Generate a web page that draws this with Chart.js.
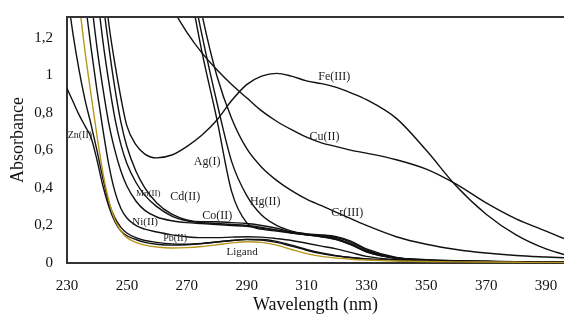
<!DOCTYPE html>
<html>
<head>
<meta charset="utf-8">
<script src="https://cdn.jsdelivr.net/npm/chart.js"></script>
<style>
  body { margin: 0; background: #fff; }
  canvas { display: block; }
</style>
</head>
<body>
<canvas id="spectra" width="564" height="316"></canvas>
<script>
// wavelengths (nm) shared by every spectrum
const wavelengths = [230, 232, 234, 236, 238, 240, 242, 244, 246, 248, 250, 253, 256, 260, 265, 270, 275, 280, 285, 290, 295, 300, 305, 310, 315, 320, 325, 330, 340, 350, 360, 370, 380, 390, 396];

// absorbance (null = off the top of the plot)
const ligand = [2.2, 1.75, 1.4, 1.13, 0.9, 0.68, 0.48, 0.33, 0.23, 0.17, 0.135, 0.11, 0.095, 0.085, 0.08, 0.082, 0.088, 0.097, 0.107, 0.113, 0.11, 0.095, 0.072, 0.05, 0.035, 0.026, 0.02, 0.016, 0.011, 0.008, 0.006, 0.005, 0.004, 0.003, 0.003];
const niII = [1.45, 1.22, 1.03, 0.87, 0.74, 0.6, 0.45, 0.32, 0.24, 0.19, 0.16, 0.135, 0.12, 0.11, 0.102, 0.1, 0.104, 0.112, 0.12, 0.126, 0.125, 0.115, 0.095, 0.072, 0.053, 0.039, 0.029, 0.022, 0.014, 0.01, 0.008, 0.006, 0.005, 0.004, 0.004];
const znII = [0.93, 0.86, 0.79, 0.73, 0.67, 0.55, 0.41, 0.3, 0.22, 0.17, 0.145, 0.125, 0.11, 0.1, 0.095, 0.097, 0.103, 0.112, 0.12, 0.125, 0.122, 0.11, 0.09, 0.068, 0.05, 0.037, 0.028, 0.021, 0.013, 0.01, 0.008, 0.006, 0.005, 0.004, 0.004];
const pbII = [null, null, 1.65, 1.4, 1.15, 0.92, 0.71, 0.52, 0.38, 0.29, 0.24, 0.2, 0.18, 0.165, 0.15, 0.14, 0.135, 0.135, 0.138, 0.14, 0.138, 0.13, 0.12, 0.105, 0.09, 0.075, 0.055, 0.035, 0.018, 0.012, 0.009, 0.007, 0.006, 0.005, 0.005];
const mnII = [null, null, null, 1.75, 1.42, 1.15, 0.93, 0.74, 0.6, 0.49, 0.41, 0.33, 0.28, 0.245, 0.225, 0.215, 0.21, 0.205, 0.2, 0.195, 0.185, 0.175, 0.165, 0.155, 0.15, 0.14, 0.115, 0.075, 0.03, 0.018, 0.012, 0.009, 0.007, 0.006, 0.005];
const cdII = [null, null, null, null, 1.75, 1.45, 1.18, 0.96, 0.77, 0.63, 0.53, 0.43, 0.36, 0.3, 0.25, 0.225, 0.215, 0.21, 0.205, 0.2, 0.19, 0.175, 0.16, 0.15, 0.145, 0.135, 0.11, 0.07, 0.028, 0.016, 0.011, 0.008, 0.007, 0.006, 0.005];
const coII = [null, null, null, null, null, 1.75, 1.4, 1.15, 0.93, 0.75, 0.62, 0.49, 0.4, 0.32, 0.26, 0.23, 0.22, 0.22, 0.215, 0.21, 0.2, 0.185, 0.165, 0.15, 0.14, 0.125, 0.095, 0.06, 0.025, 0.015, 0.01, 0.008, 0.006, 0.005, 0.005];
const feIII = [null, null, null, null, null, null, 1.55, 1.27, 1.06, 0.88, 0.73, 0.63, 0.58, 0.56, 0.575, 0.62, 0.68, 0.76, 0.865, 0.95, 0.995, 1.01, 0.995, 0.97, 0.955, 0.935, 0.905, 0.87, 0.77, 0.6, 0.41, 0.26, 0.15, 0.075, 0.045];
const agI = [null, null, null, null, null, null, null, null, null, null, null, null, null, null, null, 1.55, 1.13, 0.77, 0.38, 0.215, 0.18, 0.17, 0.16, 0.15, 0.14, 0.125, 0.1, 0.065, 0.025, 0.014, 0.01, 0.008, 0.006, 0.005, 0.005];
const hgII = [null, null, null, null, null, null, null, null, null, null, null, null, null, null, null, 1.62, 1.22, 0.86, 0.54, 0.36, 0.255, 0.2, 0.17, 0.155, 0.145, 0.13, 0.1, 0.06, 0.025, 0.013, 0.009, 0.007, 0.006, 0.005, 0.005];
const crIII = [null, null, null, null, null, null, null, null, null, null, null, null, null, null, null, 1.75, 1.33, 1.0, 0.77, 0.61, 0.51, 0.44, 0.385, 0.34, 0.305, 0.27, 0.235, 0.2, 0.14, 0.1, 0.072, 0.053, 0.04, 0.032, 0.028];
const cuII = [null, null, null, null, null, null, null, null, null, null, null, null, null, 1.5, 1.36, 1.23, 1.12, 1.03, 0.95, 0.88, 0.81, 0.755, 0.71, 0.67, 0.64, 0.62, 0.6, 0.585, 0.55, 0.5, 0.42, 0.32, 0.235, 0.17, 0.13];

// tick labels
const xTicks = [230, 250, 270, 290, 310, 330, 350, 370, 390];
const yTicks = [0, 0.2, 0.4, 0.6, 0.8, 1, 1.2];

// curve labels written on the plot (wavelength, absorbance of the text centre)
const labelNames = ['Fe(III)', 'Cu(II)', 'Zn(II)', 'Ag(I)', 'Hg(II)', 'Cr(III)', 'Mn(II)', 'Cd(II)', 'Co(II)', 'Ni(II)', 'Pb(II)', 'Ligand'];
const labelWl = [319.3, 316, 234.3, 276.8, 296.2, 323.6, 257.1, 269.5, 280.2, 256.1, 266.1, 288.5];
const labelAbs = [0.99, 0.67, 0.68, 0.537, 0.324, 0.266, 0.37, 0.35, 0.25, 0.218, 0.133, 0.058];
const labelSize = [12, 12, 10, 12, 12, 12, 9, 12, 12, 11, 10, 11];

const series = [
  { name: 'Ligand', values: ligand, color: '#b8961c' },
  { name: 'Ni(II)', values: niII, color: '#111' },
  { name: 'Zn(II)', values: znII, color: '#111' },
  { name: 'Pb(II)', values: pbII, color: '#111' },
  { name: 'Mn(II)', values: mnII, color: '#111' },
  { name: 'Cd(II)', values: cdII, color: '#111' },
  { name: 'Co(II)', values: coII, color: '#111' },
  { name: 'Fe(III)', values: feIII, color: '#111' },
  { name: 'Ag(I)', values: agI, color: '#111' },
  { name: 'Hg(II)', values: hgII, color: '#111' },
  { name: 'Cr(III)', values: crIII, color: '#111' },
  { name: 'Cu(II)', values: cuII, color: '#111' }
];

const serif = '"Liberation Serif", "Times New Roman", serif';

// writes the metal names next to their curves
const curveLabels = {
  id: 'curveLabels',
  afterDatasetsDraw(chart) {
    const ctx = chart.ctx;
    const xs = chart.scales.x, ys = chart.scales.y;
    ctx.save();
    ctx.fillStyle = '#222';
    ctx.textAlign = 'center';
    ctx.textBaseline = 'middle';
    labelNames.forEach((name, i) => {
      ctx.font = labelSize[i] + 'px ' + serif;
      ctx.fillText(name, xs.getPixelForValue(labelWl[i]), ys.getPixelForValue(labelAbs[i]));
    });
    ctx.restore();
  }
};

// top edge of the frame
const topBorder = {
  id: 'topBorder',
  afterDraw(chart) {
    const a = chart.chartArea, ctx = chart.ctx;
    ctx.save();
    ctx.strokeStyle = '#333';
    ctx.lineWidth = 2;
    ctx.beginPath();
    ctx.moveTo(a.left, a.top);
    ctx.lineTo(a.right, a.top);
    ctx.stroke();
    ctx.restore();
  }
};

new Chart(document.getElementById('spectra'), {
  type: 'line',
  data: {
    datasets: series.map(s => ({
      label: s.name,
      data: wavelengths.map((w, i) => ({ x: w, y: s.values[i] })),
      borderColor: s.color,
      borderWidth: 1.4,
      pointRadius: 0,
      fill: false,
      cubicInterpolationMode: 'monotone',
      spanGaps: false
    }))
  },
  options: {
    responsive: false,
    animation: false,
    devicePixelRatio: 1,
    layout: { padding: { top: 17, right: 0, left: 0, bottom: 0 } },
    plugins: { legend: { display: false }, tooltip: { enabled: false } },
    scales: {
      x: {
        type: 'linear',
        min: 230,
        max: 396,
        grid: { display: false, drawTicks: false },
        border: { display: true, color: '#333', width: 2 },
        afterBuildTicks: axis => { axis.ticks = xTicks.map(v => ({ value: v })); },
        afterFit: axis => { axis.height = 53; axis.paddingLeft = 0; axis.paddingRight = 0; },
        ticks: {
          autoSkip: false,
          maxRotation: 0,
          padding: 14,
          color: '#111',
          font: { family: serif, size: 15 },
          callback: v => String(v)
        },
        title: {
          display: true,
          text: 'Wavelength (nm)',
          color: '#111',
          font: { family: serif, size: 18 },
          padding: { top: 0, bottom: 0 }
        }
      },
      y: {
        min: 0,
        max: 1.31,
        grid: { display: false, drawTicks: false },
        border: { display: true, color: '#333', width: 2 },
        afterBuildTicks: axis => { axis.ticks = yTicks.map(v => ({ value: v })); },
        afterFit: axis => { axis.width = 67; axis.paddingTop = 0; axis.paddingBottom = 0; },
        ticks: {
          padding: 14,
          color: '#111',
          font: { family: serif, size: 15 },
          callback: v => String(Math.round(v * 10) / 10).replace('.', ',')
        },
        title: {
          display: true,
          text: 'Absorbance',
          color: '#111',
          font: { family: serif, size: 18 },
          padding: { top: 7, bottom: 0 }
        }
      }
    }
  },
  plugins: [curveLabels, topBorder]
});
</script>
</body>
</html>
